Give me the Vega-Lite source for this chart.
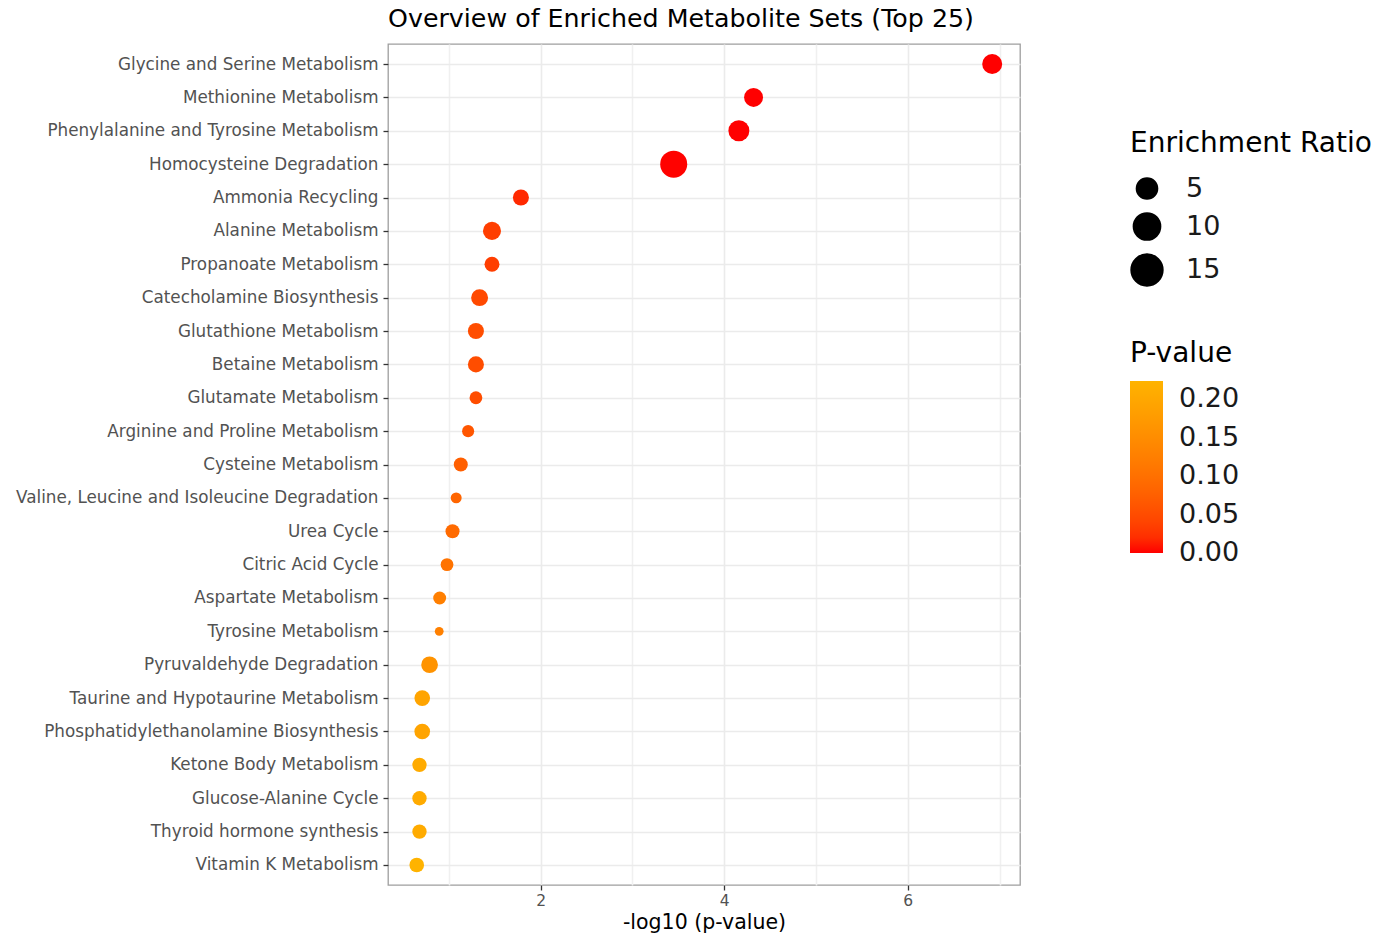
{
  "$schema": "https://vega.github.io/schema/vega-lite/v6.json",
  "autosize": "none",
  "padding": {"left": 388, "top": 44, "right": 372, "bottom": 51},
  "width": 632,
  "height": 841,
  "background": "white",
  "config": {
    "font": "DejaVu Sans",
    "view": {"stroke": "#9E9E9E", "strokeWidth": 1.3}
  },
  "title": {
    "text": "Overview of Enriched Metabolite Sets (Top 25)",
    "fontSize": 25.3,
    "fontWeight": "normal",
    "color": "#000000",
    "anchor": "middle",
    "dx": -23,
    "offset": 12
  },
  "data": {
    "values": [
      {"set": "Glycine and Serine Metabolism", "neglog10p": 6.92, "pvalue": 0.00000012, "ratio": 9.3},
      {"set": "Methionine Metabolism", "neglog10p": 4.32, "pvalue": 0.000048, "ratio": 8.4},
      {"set": "Phenylalanine and Tyrosine Metabolism", "neglog10p": 4.16, "pvalue": 0.000069, "ratio": 10.3},
      {"set": "Homocysteine Degradation", "neglog10p": 3.45, "pvalue": 0.00035, "ratio": 17},
      {"set": "Ammonia Recycling", "neglog10p": 1.785, "pvalue": 0.0164, "ratio": 6.0},
      {"set": "Alanine Metabolism", "neglog10p": 1.47, "pvalue": 0.0339, "ratio": 7.6},
      {"set": "Propanoate Metabolism", "neglog10p": 1.47, "pvalue": 0.0339, "ratio": 5.2},
      {"set": "Catecholamine Biosynthesis", "neglog10p": 1.335, "pvalue": 0.0462, "ratio": 6.7},
      {"set": "Glutathione Metabolism", "neglog10p": 1.295, "pvalue": 0.0507, "ratio": 6.0},
      {"set": "Betaine Metabolism", "neglog10p": 1.295, "pvalue": 0.0507, "ratio": 6.0},
      {"set": "Glutamate Metabolism", "neglog10p": 1.295, "pvalue": 0.0507, "ratio": 3.8},
      {"set": "Arginine and Proline Metabolism", "neglog10p": 1.21, "pvalue": 0.0617, "ratio": 3.4},
      {"set": "Cysteine Metabolism", "neglog10p": 1.13, "pvalue": 0.0741, "ratio": 4.6},
      {"set": "Valine, Leucine and Isoleucine Degradation", "neglog10p": 1.08, "pvalue": 0.0832, "ratio": 2.8},
      {"set": "Urea Cycle", "neglog10p": 1.04, "pvalue": 0.0912, "ratio": 4.6},
      {"set": "Citric Acid Cycle", "neglog10p": 0.98, "pvalue": 0.105, "ratio": 3.8},
      {"set": "Aspartate Metabolism", "neglog10p": 0.90, "pvalue": 0.126, "ratio": 3.9},
      {"set": "Tyrosine Metabolism", "neglog10p": 0.895, "pvalue": 0.127, "ratio": 1.8},
      {"set": "Pyruvaldehyde Degradation", "neglog10p": 0.79, "pvalue": 0.162, "ratio": 6.5},
      {"set": "Taurine and Hypotaurine Metabolism", "neglog10p": 0.71, "pvalue": 0.195, "ratio": 5.7},
      {"set": "Phosphatidylethanolamine Biosynthesis", "neglog10p": 0.71, "pvalue": 0.195, "ratio": 5.7},
      {"set": "Ketone Body Metabolism", "neglog10p": 0.68, "pvalue": 0.209, "ratio": 4.8},
      {"set": "Glucose-Alanine Cycle", "neglog10p": 0.68, "pvalue": 0.209, "ratio": 4.8},
      {"set": "Thyroid hormone synthesis", "neglog10p": 0.68, "pvalue": 0.209, "ratio": 4.8},
      {"set": "Vitamin K Metabolism", "neglog10p": 0.65, "pvalue": 0.224, "ratio": 5.0}
    ]
  },
  "mark": {"type": "circle", "opacity": 1, "stroke": null},
  "encoding": {
    "y": {
      "field": "set",
      "type": "nominal",
      "sort": null,
      "scale": {"type": "point", "padding": 0.6},
      "axis": {
        "title": null,
        "domain": false,
        "labelFontSize": 16.8,
        "labelColor": "#525252",
        "labelPadding": 5,
        "tickSize": 5,
        "tickColor": "#333333",
        "tickWidth": 1.3,
        "grid": true,
        "gridColor": "#EBEBEB",
        "gridWidth": 1.6,
        "labelLimit": 500
      }
    },
    "x": {
      "field": "neglog10p",
      "type": "quantitative",
      "scale": {"domain": [0.337, 7.223], "nice": false, "zero": false},
      "axis": {
        "title": "-log10 (p-value)",
        "titleFontSize": 20.5,
        "titleFontWeight": "normal",
        "titleColor": "#000000",
        "titlePadding": 4,
        "values": [1, 2, 3, 4, 5, 6, 7],
        "labelExpr": "datum.value % 2 === 0 ? datum.label : ''",
        "labelFontSize": 15.5,
        "labelColor": "#525252",
        "labelPadding": 3,
        "domain": false,
        "tickSize": 5,
        "tickWidth": 1.3,
        "tickColor": {"condition": {"test": "datum.value % 2 === 0", "value": "#333333"}, "value": "transparent"},
        "grid": true,
        "gridWidth": 1.6,
        "gridColor": {"condition": {"test": "datum.value % 2 === 0", "value": "#EBEBEB"}, "value": "#F0F0F0"}
      }
    },
    "size": {
      "field": "ratio",
      "type": "quantitative",
      "scale": {"domain": [0, 17], "range": [0, 729], "zero": true},
      "legend": {
        "title": "Enrichment Ratio",
        "orient": "none",
        "legendX": 742,
        "legendY": 86,
        "values": [5, 10, 15],
        "titleFontSize": 28,
        "titleFontWeight": "normal",
        "titleColor": "#000000",
        "titleLimit": 500,
        "titlePadding": 17,
        "labelFontSize": 27,
        "labelColor": "#1A1A1A",
        "labelOffset": 22,
        "symbolType": "circle",
        "symbolFillColor": "#000000",
        "symbolStrokeColor": "#000000",
        "symbolStrokeWidth": 8,
        "symbolOpacity": 1,
        "rowPadding": -20
      }
    },
    "color": {
      "field": "pvalue",
      "type": "quantitative",
      "scale": {"domain": [0, 0.224], "range": ["#FF0000", "#FFB300"], "interpolate": "lab"},
      "legend": {
        "title": "P-value",
        "orient": "none",
        "legendX": 742,
        "legendY": 296,
        "values": [0, 0.05, 0.1, 0.15, 0.2],
        "format": ".2f",
        "titleFontSize": 28,
        "titleFontWeight": "normal",
        "titleColor": "#000000",
        "titlePadding": 13,
        "labelFontSize": 27,
        "labelColor": "#1A1A1A",
        "labelOffset": 16,
        "labelOverlap": false,
        "gradientLength": 172,
        "gradientThickness": 33,
        "gradientStrokeWidth": 0,
        "encoding": {
          "labels": {"baseline": {"value": "middle"}}
        }
      }
    }
  }
}
